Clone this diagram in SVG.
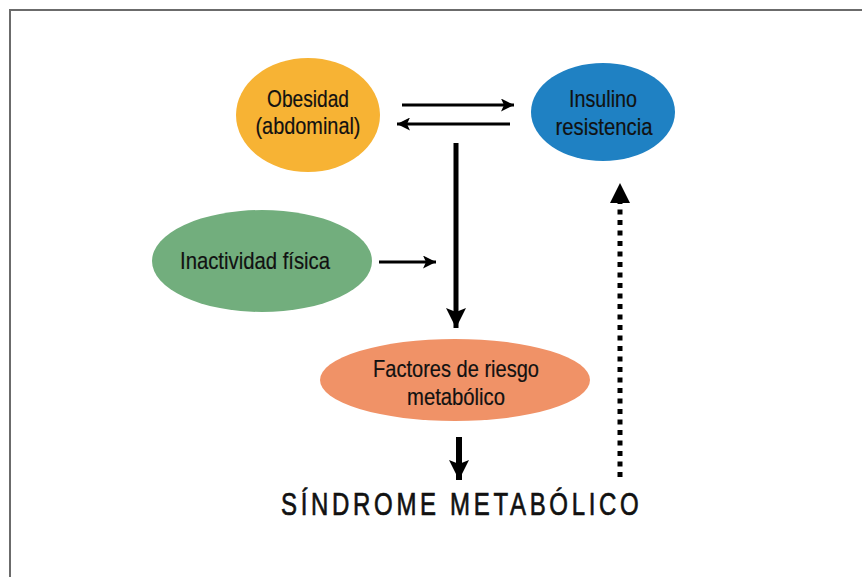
<svg xmlns="http://www.w3.org/2000/svg" width="862" height="577" viewBox="0 0 862 577">
<defs>
<style>
.lbl{font-family:"Liberation Sans","DejaVu Sans",sans-serif;font-size:24px;fill:#111;stroke:#111;stroke-width:0.2;}
.title{font-family:"Liberation Sans","DejaVu Sans",sans-serif;font-size:32px;fill:#111;stroke:#111;stroke-width:0.7;}
.ln{stroke:#000;fill:none;}
</style>
<marker id="ah" viewBox="0 0 13 13" refX="13" refY="6.5" markerWidth="13" markerHeight="13" markerUnits="userSpaceOnUse" orient="auto"><path d="M0,0 L13,6.5 L0,13 L3,6.5 Z" fill="#000"/></marker>
<marker id="ahb" viewBox="0 0 20 20" refX="20" refY="10" markerWidth="20" markerHeight="20" markerUnits="userSpaceOnUse" orient="auto"><path d="M0,0 L20,10 L0,20 L4,10 Z" fill="#000"/></marker>
</defs>
<rect width="862" height="577" fill="#fff"/>
<path d="M10,577 V10 H862" fill="none" stroke="#6b6b6b" stroke-width="2"/>
<g id="obesidad">
<ellipse cx="308" cy="115" rx="72" ry="57" fill="#F7B334"/>
<text class="lbl" x="308" y="107" text-anchor="middle" textLength="82" lengthAdjust="spacingAndGlyphs">Obesidad</text>
<text class="lbl" x="308" y="134" text-anchor="middle" textLength="105" lengthAdjust="spacingAndGlyphs">(abdominal)</text>
</g>
<g id="insulino">
<ellipse cx="603" cy="112" rx="72" ry="49" fill="#1F81C3"/>
<text class="lbl" x="603" y="107" text-anchor="middle" textLength="68" lengthAdjust="spacingAndGlyphs">Insulino</text>
<text class="lbl" x="604" y="135" text-anchor="middle" textLength="97" lengthAdjust="spacingAndGlyphs">resistencia</text>
</g>
<g id="inactividad">
<ellipse cx="262" cy="261" rx="110" ry="51" fill="#72AE7D"/>
<text class="lbl" x="255" y="269" text-anchor="middle" textLength="150" lengthAdjust="spacingAndGlyphs">Inactividad física</text>
</g>
<g id="factores">
<ellipse cx="455" cy="380" rx="135" ry="41" fill="#F09267"/>
<text class="lbl" x="456" y="377" text-anchor="middle" textLength="166" lengthAdjust="spacingAndGlyphs">Factores de riesgo</text>
<text class="lbl" x="456" y="405" text-anchor="middle" textLength="98" lengthAdjust="spacingAndGlyphs">metabólico</text>
</g>
<g id="sindrome">
<text class="title" transform="translate(281,515) scale(0.75,1)" x="0" y="0" textLength="477" lengthAdjust="spacing">SÍNDROME METABÓLICO</text>
</g>
<g id="connectors">
<line class="ln" x1="402" y1="105" x2="514" y2="105" stroke-width="3" marker-end="url(#ah)"/>
<line class="ln" x1="510" y1="124" x2="397" y2="124" stroke-width="3" marker-end="url(#ah)"/>
<line class="ln" x1="456" y1="143" x2="456" y2="328" stroke-width="5" marker-end="url(#ahb)"/>
<line class="ln" x1="379" y1="262" x2="436" y2="262" stroke-width="3" marker-end="url(#ah)"/>
<line class="ln" x1="459" y1="437" x2="459" y2="480" stroke-width="6" marker-end="url(#ahb)"/>
<line class="ln" x1="620" y1="477" x2="620" y2="202" stroke-width="5" stroke-dasharray="5 5.5"/>
<path d="M610,203 L620,183 L630,203 Z" fill="#000"/>
</g>
</svg>
